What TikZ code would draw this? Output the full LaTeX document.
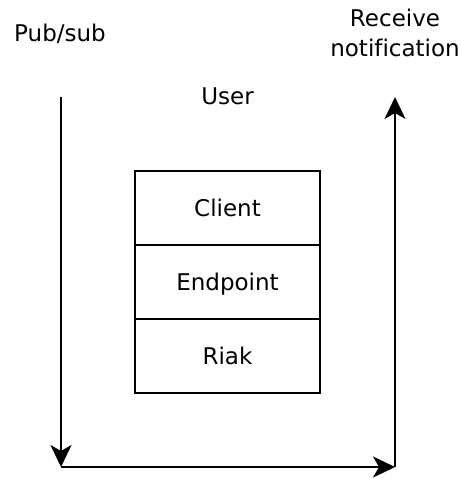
\documentclass[tikz,border=0pt]{standalone}
\usepackage{fontspec}
\setmainfont[Ligatures=NoCommon]{DejaVu Sans}
\usetikzlibrary{arrows.meta}
\begin{document}
\begin{tikzpicture}[x=1pt,y=-1pt,
  layerbox/.style={draw,line width=1.5pt,minimum width=185pt,minimum height=74pt,inner sep=0pt,
    text height=17pt,text depth=0pt,font=\fontsize{23}{30}\selectfont},
  lbl/.style={inner sep=0pt,anchor=base,font=\fontsize{23}{30}\selectfont,align=center},
  flow/.style={line width=1.8pt,-{Stealth[length=22pt,width=21pt,inset=6pt]}}]
\useasboundingbox (0,0) rectangle (461,478);
% stacked layers
\node[layerbox] (client) at (227.5,208) {Client};
\node[layerbox] (endpoint) at (227.5,282) {Endpoint};
\node[layerbox] (riak) at (227.5,356) {Riak};
% labels (a two-line label sits on the baseline of its last line)
\node[lbl] (pubsub) at (60,42) {Pub/sub};
\node[lbl] (recv) at (395,57) {Receive\\notification};
\node[lbl] (user) at (227.5,105) {User};
% message path
\coordinate (ps) at (61,97);
\coordinate (bl) at (61,467);
\coordinate (br) at (395,467);
\coordinate (rn) at (395,97);
\draw[flow] (ps) -- (bl);
\draw[flow] (bl) -- (br);
\draw[flow] (br) -- (rn);
\end{tikzpicture}
\end{document}
